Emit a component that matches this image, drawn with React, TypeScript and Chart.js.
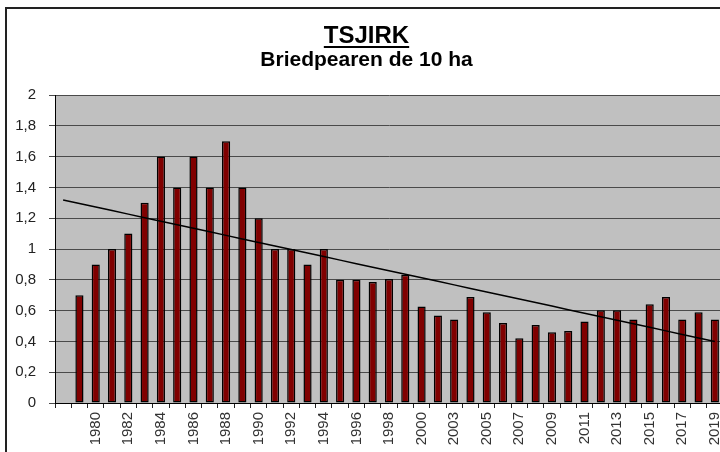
import React, { useEffect, useRef } from 'react';
import { Chart, registerables } from 'chart.js';

Chart.register(...registerables);

const FONT = '"Liberation Sans", Arial, sans-serif';

const TITLE = 'TSJIRK';
const SUBTITLE = 'Briedpearen de 10 ha';

// category labels (first category is an empty slot)
const years: string[] = [
  '', '1979', '1980', '1981', '1982', '1983', '1984', '1985', '1986', '1987',
  '1988', '1989', '1990', '1991', '1992', '1993', '1994', '1995', '1996', '1997',
  '1998', '1999', '2000', '2002', '2003', '2004', '2005', '2006', '2007', '2008',
  '2009', '2010', '2011', '2012', '2013', '2014', '2015', '2016', '2017', '2018',
  '2019',
];

// breeding pairs per 10 ha
const pairs: (number | null)[] = [
  null, 0.7, 0.9, 1.0, 1.1, 1.3, 1.6, 1.4, 1.6, 1.4,
  1.7, 1.4, 1.2, 1.0, 1.0, 0.9, 1.0, 0.8, 0.8, 0.785,
  0.806, 0.832, 0.627, 0.568, 0.542, 0.689, 0.59, 0.52, 0.42, 0.507,
  0.46, 0.468, 0.529, 0.603, 0.603, 0.542, 0.642, 0.689, 0.542, 0.59,
  0.542,
];

const yMin = 0;
const yMax = 2;
const yStep = 0.2;

function linearTrend(vals: (number | null)[]): number[] {
  const pts: [number, number][] = [];
  vals.forEach((v, i) => {
    if (v !== null) pts.push([i, v]);
  });
  const n = pts.length;
  const mx = pts.reduce((a, p) => a + p[0], 0) / n;
  const my = pts.reduce((a, p) => a + p[1], 0) / n;
  let sxy = 0;
  let sxx = 0;
  pts.forEach(([x, y]) => {
    sxy += (x - mx) * (y - my);
    sxx += (x - mx) * (x - mx);
  });
  const slope = sxy / sxx;
  const icpt = my - slope * mx;
  return vals.map((_, i) => icpt + slope * i);
}

const fmt = (v: number) => String(Number(Number(v).toFixed(1))).replace('.', ',');

const plotBg = {
  id: 'plotBg',
  beforeDraw(chart: any) {
    const { ctx, chartArea } = chart;
    if (!chartArea) return;
    ctx.save();
    ctx.fillStyle = '#c0c0c0';
    ctx.fillRect(chartArea.left, chartArea.top, chartArea.right - chartArea.left, chartArea.bottom - chartArea.top);
    ctx.restore();
  },
};

const TITLE_SIZE = 24;
const TITLE_PAD_TOP = 15;
const SUB_SIZE = 21;

const titleUnderline = {
  id: 'titleUnderline',
  afterDraw(chart: any) {
    const tb = chart.titleBlock;
    if (!tb) return;
    const ctx = chart.ctx;
    ctx.save();
    ctx.font = `bold ${TITLE_SIZE}px ${FONT}`;
    const w = ctx.measureText(TITLE).width;
    const cx = (tb.left + tb.right) / 2;
    const cy = tb.top + TITLE_PAD_TOP + TITLE_SIZE / 2 + TITLE_SIZE * 0.46;
    ctx.strokeStyle = '#000';
    ctx.lineWidth = 2;
    ctx.beginPath();
    ctx.moveTo(cx - w / 2, cy);
    ctx.lineTo(cx + w / 2, cy);
    ctx.stroke();
    ctx.restore();
  },
};

export default function App() {
  const ref = useRef<HTMLCanvasElement | null>(null);

  useEffect(() => {
    if (!ref.current) return;
    const trend = linearTrend(pairs);
    const chart = new Chart(ref.current, {
      type: 'bar',
      data: {
        labels: years,
        datasets: [
          {
            type: 'line',
            label: 'Trend',
            data: trend,
            borderColor: '#000',
            borderWidth: 1.5,
            pointRadius: 0,
            fill: false,
            tension: 0,
            order: 0,
          } as any,
          {
            type: 'bar',
            label: 'Briedpearen',
            data: pairs,
            backgroundColor: '#800000',
            borderColor: '#000',
            borderWidth: 1.5,
            borderSkipped: false,
            barPercentage: 0.5,
            categoryPercentage: 1.0,
            order: 1,
          } as any,
        ],
      },
      options: {
        responsive: false,
        animation: false,
        layout: { padding: { left: 0, right: 11, top: 0, bottom: 0 } },
        plugins: {
          legend: { display: false },
          tooltip: { enabled: false },
          title: {
            display: true,
            text: TITLE,
            color: '#000',
            font: { size: TITLE_SIZE, weight: 'bold', family: FONT, lineHeight: 1.0 },
            padding: { top: TITLE_PAD_TOP, bottom: 0 },
          },
          subtitle: {
            display: true,
            text: SUBTITLE,
            color: '#000',
            font: { size: SUB_SIZE, weight: 'bold', family: FONT, lineHeight: 1.0 },
            padding: { top: 1.5, bottom: 24.5 },
          },
        },
        scales: {
          x: {
            grid: {
              offset: true,
              drawOnChartArea: false,
              color: '#222',
              tickLength: 5,
              lineWidth: 1,
            },
            border: { color: '#000', width: 1 },
            ticks: {
              autoSkip: false,
              minRotation: 90,
              maxRotation: 90,
              padding: 4,
              color: '#333',
              font: { size: 15, family: FONT },
              callback: (_v: any, i: number) => (i % 2 === 0 ? years[i] : ''),
            },
            afterFit: (s: any) => {
              s.height = 49;
            },
          },
          y: {
            min: yMin,
            max: yMax,
            grid: { color: '#4a4a4a', lineWidth: 1, tickLength: 6 },
            border: { color: '#000', width: 1 },
            ticks: {
              stepSize: yStep,
              padding: 13,
              color: '#222',
              font: { size: 15, family: FONT },
              callback: (v: any) => fmt(v),
            },
            afterFit: (s: any) => {
              s.width = 48;
            },
          },
        },
      },
      plugins: [plotBg, titleUnderline],
    });
    return () => chart.destroy();
  }, []);

  return (
    <div
      style={{
        position: 'fixed',
        left: 0,
        top: 0,
        width: 720,
        height: 452,
        overflow: 'hidden',
        background: '#fff',
      }}
    >
      <div
        style={{
          position: 'absolute',
          left: 5,
          top: 7,
          width: 800,
          height: 500,
          borderLeft: '2px solid #222',
          borderTop: '2px solid #222',
        }}
      >
        <canvas
          ref={ref}
          width={730}
          height={443}
          style={{ display: 'block', width: 730, height: 443 }}
        />
      </div>
    </div>
  );
}
